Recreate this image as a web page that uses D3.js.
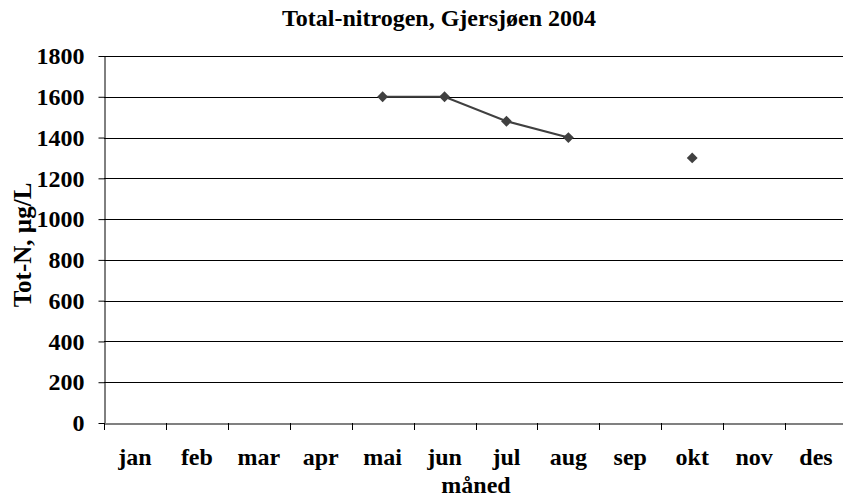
<!DOCTYPE html>
<html>
<head>
<meta charset="utf-8">
<script src="https://cdn.jsdelivr.net/npm/d3@7.9.0/dist/d3.min.js"></script>
<style>
  body { margin: 0; background: #fff; }
  text { font-family: "Liberation Serif", "Times New Roman", serif; font-weight: bold; fill: #000; }
</style>
</head>
<body>
<svg id="chart" width="843" height="498"></svg>
<script>
// Data
const months = ['jan', 'feb', 'mar', 'apr', 'mai', 'jun', 'jul', 'aug', 'sep', 'okt', 'nov', 'des'];
const totN   = [null, null, null, null, 1600, 1600, 1480, 1400, null, 1300, null, null];
const yTicks = [0, 200, 400, 600, 800, 1000, 1200, 1400, 1600, 1800];

const svg = d3.select('#chart');
const plotL = 104, plotR = 847, plotT = 56, plotB = 423;

const x = d3.scaleBand().domain(months).range([plotL, plotR]);
const y = d3.scaleLinear().domain([0, 1800]).range([plotB, plotT]);

// gridlines
svg.append('g')
  .selectAll('line')
  .data(yTicks.filter(d => d > 0))
  .join('line')
  .attr('x1', plotL).attr('x2', 843)
  .attr('y1', d => Math.round(y(d)) + 0.5).attr('y2', d => Math.round(y(d)) + 0.5)
  .attr('stroke', '#000').attr('stroke-width', 1);

// y axis
const yAxis = svg.append('g')
  .attr('transform', `translate(${plotL + 0.5},0)`)
  .call(d3.axisLeft(y).tickValues(yTicks).tickFormat(d3.format('d'))
    .tickSize(6).tickPadding(14).tickSizeOuter(0));
yAxis.select('.domain').attr('stroke', '#000');
yAxis.selectAll('.tick line').attr('stroke', '#000');
yAxis.selectAll('.tick text').style('font-size', '24px').attr('fill', '#000');

// x axis
const xAxis = svg.append('g')
  .attr('transform', `translate(0,${plotB + 0.5})`)
  .call(d3.axisBottom(x).tickSize(0));
xAxis.select('.domain').attr('stroke', '#808080').attr('stroke-width', 2);
xAxis.selectAll('.tick text')
  .style('font-size', '24px')
  .attr('fill', '#000')
  .attr('y', 41)
  .attr('dy', null);

// category separator ticks
svg.append('g')
  .selectAll('line')
  .data(months)
  .join('line')
  .attr('x1', d => Math.round(x(d)) + 0.5).attr('x2', d => Math.round(x(d)) + 0.5)
  .attr('y1', plotB).attr('y2', plotB + 7)
  .attr('stroke', '#000');

// series line (gap where months are missing)
const pts = months.map((m, i) => ({ m, v: totN[i] }));
const line = d3.line()
  .defined(d => d.v !== null)
  .x(d => x(d.m) + x.bandwidth() / 2)
  .y(d => y(d.v));

svg.append('path')
  .datum(pts)
  .attr('d', line)
  .attr('fill', 'none')
  .attr('stroke', '#404040')
  .attr('stroke-width', 2);

svg.append('g')
  .selectAll('path')
  .data(pts.filter(d => d.v !== null))
  .join('path')
  .attr('d', d3.symbol(d3.symbolDiamond2, 75))
  .attr('transform', d => `translate(${x(d.m) + x.bandwidth() / 2},${y(d.v)})`)
  .attr('fill', '#404040');

// titles
svg.append('text')
  .attr('x', 439).attr('y', 26)
  .attr('text-anchor', 'middle')
  .style('font-size', '24px')
  .text('Total-nitrogen, Gjersjøen 2004');

svg.append('text')
  .attr('x', 476).attr('y', 493)
  .attr('text-anchor', 'middle')
  .style('font-size', '24px')
  .text('måned');

svg.append('text')
  .attr('transform', 'translate(31,245) rotate(-90)')
  .attr('text-anchor', 'middle')
  .style('font-size', '25px')
  .text('Tot-N, µg/L');
</script>
</body>
</html>
